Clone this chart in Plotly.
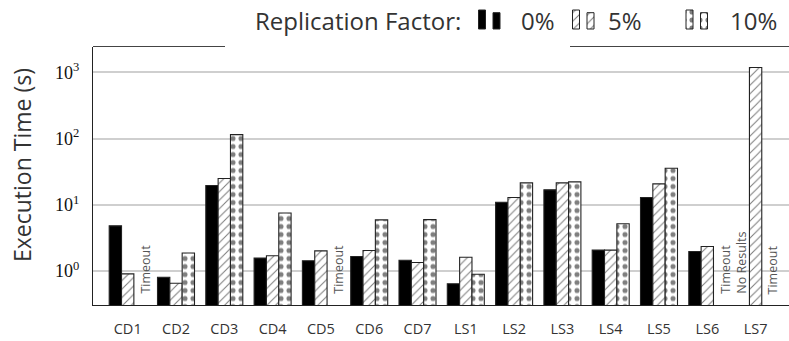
import plotly.graph_objects as go

# ---- data -------------------------------------------------------------
categories = ["CD1", "CD2", "CD3", "CD4", "CD5", "CD6", "CD7",
              "LS1", "LS2", "LS3", "LS4", "LS5", "LS6", "LS7"]
series_names = ["0%", "5%", "10%"]
rf0 = [4.8, 0.80, 19.5, 1.56, 1.42, 1.65, 1.45, 0.64, 10.9, 16.8, 2.06, 12.9, 1.96, None]
rf5 = [0.90, 0.65, 24.9, 1.69, 2.01, 2.03, 1.34, 1.61, 12.9, 21.4, 2.06, 20.7, 2.34, 1190]
rf10 = [None, 1.86, 115, 7.5, None, 5.9, 5.95, 0.89, 21.4, 22.2, 5.17, 35.7, None, None]
y_tickvals = [1, 10, 100, 1000]
y_ticktext = ["10<sup>0</sup>", "10<sup>1</sup>", "10<sup>2</sup>", "10<sup>3</sup>"]
# (category, series index, note)
notes = [("CD1", 2, "Timeout"), ("CD5", 2, "Timeout"),
         ("LS6", 2, "Timeout<br>No Results"), ("LS7", 2, "Timeout")]

# ---- styling ------------------------------------------------------------
W, H = 789, 341
PL, PR, PT, PB = 93, 789, 46.5, 305          # plot box in pixels
BARGAP = 0.234
SANS = "Open Sans, Noto Sans, sans-serif"
SERIF = "Liberation Serif, DejaVu Serif, serif"
TXT = "#333333"
OUTLINE = "#222222"

styles = [
    dict(color="black", pattern=dict(shape="")),
    dict(color="white", pattern=dict(shape="/", fgcolor="black", bgcolor="white",
                                     size=6, solidity=0.18, fillmode="overlay")),
    dict(color="white", pattern=dict(shape=".", fgcolor="black", bgcolor="white",
                                     size=8, solidity=0.32, fillmode="overlay")),
]

fig = go.Figure()

for name, vals, st in zip(series_names, [rf0, rf5, rf10], styles):
    fig.add_trace(go.Bar(
        x=categories, y=vals, name=name, showlegend=False,
        marker=dict(color=st["color"], pattern=st["pattern"],
                    line=dict(color=OUTLINE, width=1.1)),
        xaxis="x", yaxis="y",
    ))

# legend swatches (pairs of small bars) on an overlay axis measured in pixels
swatch_left = [478.5, 572.5, 686]
swatch_w = 7
swatch_gap = 14.5
swatch_h = [19, 16.3]
swatch_bottom = 29
for name, st, x0 in zip(series_names, styles, swatch_left):
    fig.add_trace(go.Bar(
        x=[x0 + swatch_w / 2, x0 + swatch_gap + swatch_w / 2],
        y=swatch_h, base=[H - swatch_bottom] * 2, width=[swatch_w] * 2,
        marker=dict(color=st["color"], pattern=st["pattern"],
                    line=dict(color=OUTLINE, width=1)),
        showlegend=False, hoverinfo="skip", xaxis="x2", yaxis="y2",
    ))

xlo = -(127.7 - PL) / 48.3
xhi = xlo + (PR - PL) / 48.3

fig.update_layout(
    width=W, height=H,
    margin=dict(l=0, r=0, t=0, b=0),
    paper_bgcolor="white", plot_bgcolor="rgba(0,0,0,0)",
    barmode="group", bargap=BARGAP, bargroupgap=0,
    font=dict(family=SANS, color=TXT),
    xaxis=dict(
        domain=[PL / W, PR / W], type="category", range=[xlo, xhi],
        showgrid=False, showline=True, linecolor="#222", linewidth=1.3,
        ticks="", tickfont=dict(family=SANS, size=14.5, color=TXT),
        ticklabelstandoff=10,
    ),
    yaxis=dict(
        domain=[(H - PB) / H, (H - PT) / H], type="log",
        range=[-0.516, 3.393],
        tickvals=y_tickvals, ticktext=y_ticktext,
        showgrid=True, gridcolor="#cfcfcf", gridwidth=1.5,
        showline=True, linecolor="#222", linewidth=1.3,
        ticks="", tickfont=dict(family=SERIF, size=18, color="#111"),
        ticklabelstandoff=9,
    ),
    xaxis2=dict(domain=[0, 1], range=[0, W], visible=False, fixedrange=True,
                anchor="y2"),
    yaxis2=dict(domain=[0, 1], range=[0, H], visible=False, fixedrange=True,
                anchor="x2"),
)

# top frame segments
for x0, x1 in [(PL, 225), (570, PR)]:
    fig.add_shape(type="line", xref="paper", yref="paper",
                  x0=x0 / W, x1=x1 / W, y0=(H - PT) / H, y1=(H - PT) / H,
                  line=dict(color="#444", width=1.2))

# notes for missing bars
slot = (1 - BARGAP) / 3
for cat, s, text in notes:
    idx = categories.index(cat)
    nlines = text.count("<br>") + 1
    fig.add_annotation(
        x=idx + (s - 1) * slot, y=(H - 296) / H, xref="x", yref="paper",
        text=text, textangle=-90, showarrow=False, align="left",
        xanchor="center", yanchor="bottom",
        xshift=5 + (nlines - 1) * 8,
        font=dict(family=SANS, size=12.5, color="#555"),
    )

# y-axis title
fig.add_annotation(x=22 / W, y=(H - 165) / H, xref="paper", yref="paper",
                   text="Execution Time (s)", textangle=-90, showarrow=False,
                   xanchor="center", yanchor="middle",
                   font=dict(family=SANS, size=23, color=TXT))

# legend texts
legend_texts = [("Replication Factor:", 253), ("0%", 519), ("5%", 606), ("10%", 728)]
for text, xl in legend_texts:
    fig.add_annotation(x=xl / W, y=(H - 21) / H, xref="paper", yref="paper",
                       text=text, showarrow=False, xanchor="left", yanchor="middle",
                       font=dict(family=SANS, size=24, color=TXT))

fig.write_html("out.html")
